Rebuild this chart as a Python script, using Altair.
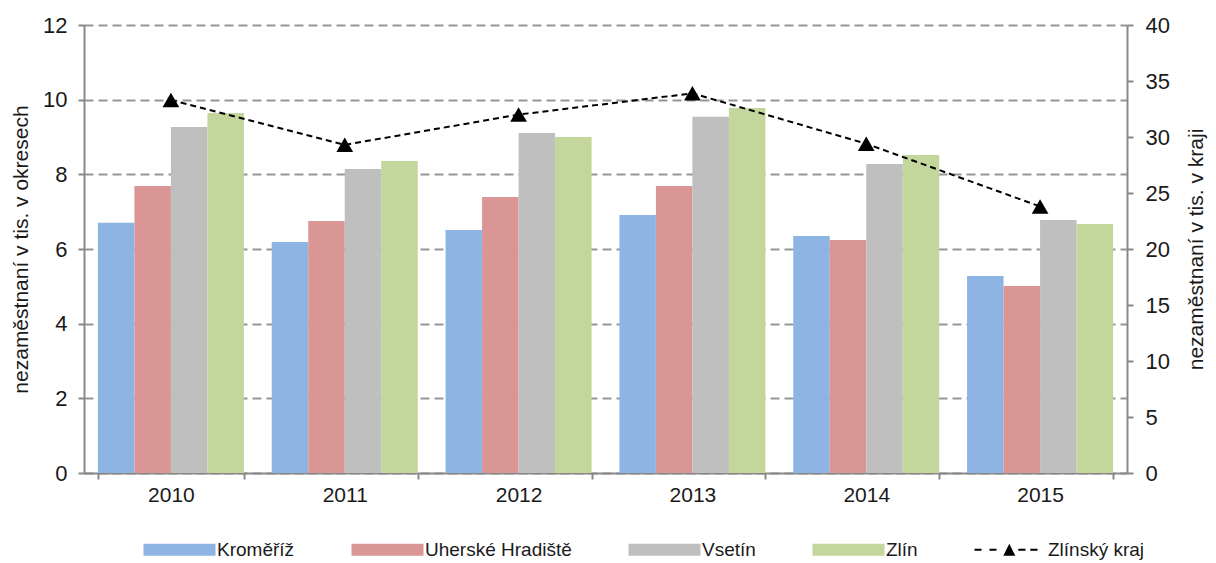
import altair as alt
import pandas as pd

years = ["2010", "2011", "2012", "2013", "2014", "2015"]
series = ["Kroměříž", "Uherské Hradiště", "Vsetín", "Zlín"]
kromeriz = [6.70, 6.19, 6.51, 6.91, 6.35, 5.28]
uherske_hradiste = [7.69, 6.75, 7.39, 7.69, 6.24, 5.01]
vsetin = [9.27, 8.14, 9.11, 9.54, 8.28, 6.78]
zlin = [9.64, 8.36, 9.00, 9.78, 8.52, 6.67]
zlinsky_kraj = [33.3, 29.3, 32.0, 33.9, 29.4, 23.8]
line_name = "Zlínský kraj"
colors = ["#8EB4E3", "#D99694", "#BFBFBF", "#C3D69B", "#000000"]
left_ticks = [0, 2, 4, 6, 8, 10, 12]
right_ticks = [0, 5, 10, 15, 20, 25, 30, 35, 40]

rows = []
for name, vals in zip(series, [kromeriz, uherske_hradiste, vsetin, zlin]):
    for yr, v in zip(years, vals):
        rows.append({"rok": yr, "okres": name, "hodnota": v})
bars_df = pd.DataFrame(rows)
line_df = pd.DataFrame({"rok": years, "kraj": zlinsky_kraj})

FONT = "Liberation Sans"
TXT = "#1a1a1a"

rect_path = "M-1,-1H11V1H-1Z"
line_path = ("M-1,-0.17H0.17V0.17H-1Z M1.5,-0.17H2.67V0.17H1.5Z "
             "M3.8,1.0L4.8,-1.0L5.8,1.0Z "
             "M6.3,-0.17H7.5V0.17H6.3Z M8.3,-0.17H9.5V0.17H8.3Z")
shape_signal = ("datum.value === '" + line_name + "' ? '" + line_path +
                "' : '" + rect_path + "'")

x_enc = alt.X(
    "rok:N",
    sort=years,
    scale=alt.Scale(paddingInner=0.16, paddingOuter=0.08),
    axis=alt.Axis(title=None, labelAngle=0, tickBand="extent", labelFontSize=21,
                  labelPadding=5, tickSize=6),
)

bars = alt.Chart(bars_df).mark_bar().encode(
    x=x_enc,
    xOffset=alt.XOffset("okres:N", sort=series,
                        scale=alt.Scale(domain=series, paddingInner=0, paddingOuter=0)),
    y=alt.Y("hodnota:Q",
            scale=alt.Scale(domain=[0, 12], nice=False),
            axis=alt.Axis(values=left_ticks, title="nezaměstnaní v tis. v okresech",
                          grid=True, gridDash=[9, 5], gridColor="#969696", gridWidth=2,
                          labelFontSize=22, titleFontSize=21, labelPadding=11,
                          titlePadding=11, tickSize=6)),
    color=alt.Color("okres:N",
                    scale=alt.Scale(domain=series + [line_name], range=colors),
                    legend=alt.Legend(
                        orient="none", legendX=56, legendY=515, direction="horizontal",
                        columns=5, title=None, symbolSize=144, labelOffset=58,
                        columnPadding=53, labelFontSize=19, labelFont=FONT,
                        labelColor=TXT, symbolStrokeWidth=0, padding=0,
                        symbolType=alt.ExprRef(expr=shape_signal),
                    )),
)

y_right = alt.Y("kraj:Q",
                scale=alt.Scale(domain=[0, 40], nice=False),
                axis=alt.Axis(orient="right", values=right_ticks, grid=False,
                              title="nezaměstnaní v tis. v kraji", titleAngle=270,
                              titleBaseline="top",
                              labelFontSize=22, titleFontSize=21, labelPadding=12,
                              titlePadding=16, tickSize=6))

line = alt.Chart(line_df).mark_line(color="black", strokeDash=[6, 4], strokeWidth=2).encode(
    x=alt.X("rok:N", sort=years), y=y_right)
points = alt.Chart(line_df).mark_point(shape="triangle-up", filled=True, size=280,
                                       color="black", opacity=1).encode(
    x=alt.X("rok:N", sort=years), y=y_right)

right = alt.layer(line, points)

chart = alt.layer(bars, right).resolve_scale(y="independent").properties(
    width=1043, height=448,
    autosize=alt.AutoSizeParams(type="none"),
    padding={"left": 76, "top": 17, "right": 81, "bottom": 90},
).configure_view(stroke=None).configure_axis(
    labelFont=FONT, titleFont=FONT, labelColor=TXT, titleColor=TXT,
    titleFontWeight="normal", domainColor="#898989", tickColor="#898989",
    domainWidth=2, tickWidth=2,
)

chart.save("out.html", embed_options={"renderer": "svg", "actions": False})
